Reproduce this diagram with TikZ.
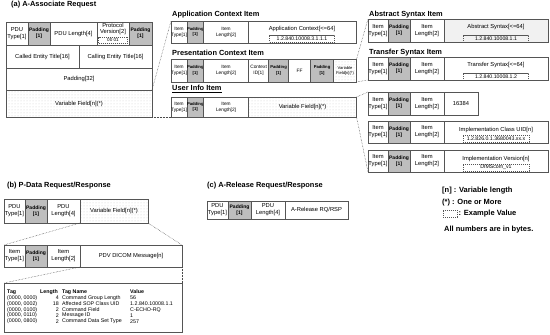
\documentclass[tikz,border=0pt]{standalone}
\usepackage{fontspec}
\setmainfont{Liberation Sans}
\usepackage{tikz}
\usetikzlibrary{positioning,patterns}
\definecolor{cellline}{HTML}{555555}
\definecolor{padgray}{HTML}{BEBEBE}
\definecolor{dotgray}{HTML}{CACACA}
\definecolor{absfill}{HTML}{F1F1F1}
\definecolor{zoomline}{HTML}{4A4A4A}

\begin{document}
\begin{tikzpicture}[x=1pt, y=-1pt,
    cell/.style={draw=cellline, line width=0.6pt, fill=white, outer sep=0pt, inner sep=0pt, align=center, font=\fontsize{5.8}{6.8}\selectfont},
    small/.style={font=\fontsize{4.8}{5.8}\selectfont},
    pad/.style={cell, fill=padgray, font=\bfseries\fontsize{5}{6.4}\selectfont},
    spad/.style={cell, fill=padgray, font=\bfseries\fontsize{4.2}{5.4}\selectfont},
    varf/.style={cell, pattern=dots, pattern color=dotgray},
    valbox/.style={draw=cellline, line width=0.4pt, dash pattern=on 1.2pt off 0.8pt, inner sep=0pt, minimum height=7pt, font=\fontsize{5.2}{5.6}\selectfont},
    lbl/.style={inner sep=0pt, align=center, font=\fontsize{5.8}{6.8}\selectfont},
    ttl/.style={anchor=west, inner sep=0pt, font=\bfseries\fontsize{7.4}{8.8}\selectfont},
    legend/.style={anchor=west, inner sep=0pt, font=\bfseries\fontsize{7.5}{9}\selectfont},
    tab/.style={anchor=west, inner sep=0pt, font=\fontsize{5.3}{6}\selectfont},
    tabhead/.style={tab, font=\bfseries\fontsize{5.3}{6}\selectfont},
    zoom/.style={draw=zoomline, line width=0.5pt, densely dotted}]
  \useasboundingbox (0,0) rectangle (550,335);

  % (a) A-Associate Request
  \node[ttl] (ttlA) at (11,5) {(a) A-Associate Request};
  \node[cell, minimum width=22pt, minimum height=23pt, anchor=north west] (aType) at (6,22) {PDU\\Type[1]};
  \node[pad, minimum width=22pt, minimum height=23pt, right=0pt of aType] (aPadA) {Padding\\{[1]}};
  \node[cell, minimum width=47pt, minimum height=23pt, right=0pt of aPadA] (aLen) {PDU Length[4]};
  \node[cell, minimum width=32pt, minimum height=23pt, right=0pt of aLen] (aVer) {};
  \node[pad, minimum width=23pt, minimum height=23pt, right=0pt of aVer] (aPadB) {Padding\\{[1]}};
  \node[lbl] (aVerName) at (113,29) {Protocol\\Version[2]};
  \node[valbox, minimum width=29pt, minimum height=6.5pt, font=\fontsize{4.6}{5}\selectfont] (aVerEx) at (113,40) {00 01};
  \node[cell, minimum width=73pt, minimum height=23pt, anchor=north west] (aCalled) at (6,45) {Called Entity Title[16]};
  \node[cell, minimum width=73pt, minimum height=23pt, right=0pt of aCalled] (aCalling) {Calling Entity Title[16]};
  \node[cell, minimum width=146pt, minimum height=22pt, anchor=north west] (aPad32) at (6,68) {Padding[32]};
  \node[varf, minimum width=146pt, minimum height=27pt, anchor=north west] (aVar) at (6,90) {Variable Field[n](*)};

  % application context item
  \node[ttl] (ttlApp) at (172,15) {Application Context Item};
  \node[cell, small, minimum width=16pt, minimum height=22pt, anchor=north west] (appType) at (171,21) {Item\\Type[1]};
  \node[spad, minimum width=16pt, minimum height=22pt, right=0pt of appType] (appPad) {Padding\\{[1]}};
  \node[cell, small, minimum width=45pt, minimum height=22pt, right=0pt of appPad] (appLen) {Item\\Length[2]};
  \node[cell, minimum width=108pt, minimum height=22pt, right=0pt of appLen] (appVal) {};
  \node[lbl] (appName) at (302,29) {Application Context[<=64]};
  \node[valbox, minimum width=65pt] (appEx) at (302,38.5) {1.2.840.10008.3.1.1.1};

  % presentation context item
  \node[ttl] (ttlPres) at (172,53) {Presentation Context Item};
  \node[cell, small, minimum width=16pt, minimum height=23pt, anchor=north west] (prType) at (171,59) {Item\\Type[1]};
  \node[spad, minimum width=16pt, minimum height=23pt, right=0pt of prType] (prPad) {Padding\\{[1]}};
  \node[cell, small, minimum width=45pt, minimum height=23pt, right=0pt of prPad] (prLen) {Item\\Length[2]};
  \node[cell, small, minimum width=20pt, minimum height=23pt, right=0pt of prLen] (prCtx) {Context\\ID[1]};
  \node[spad, minimum width=20pt, minimum height=23pt, right=0pt of prCtx] (prPadA) {Padding\\{[1]}};
  \node[cell, small, minimum width=22pt, minimum height=23pt, right=0pt of prPadA] (prFF) {FF};
  \node[spad, minimum width=23pt, minimum height=23pt, right=0pt of prFF] (prPadB) {Padding\\{[1]}};
  \node[varf, minimum width=23pt, minimum height=23pt, right=0pt of prPadB, font=\fontsize{4.1}{5}\selectfont] (prVar) {Variable\\Field[n](*)};

  % user info item
  \node[ttl] (ttlUser) at (172,89) {\underline{User Info Item}};
  \node[cell, small, minimum width=16pt, minimum height=20pt, anchor=north west] (uiType) at (171,97) {Item\\Type[1]};
  \node[spad, minimum width=16pt, minimum height=20pt, right=0pt of uiType] (uiPad) {Padding\\{[1]}};
  \node[cell, small, minimum width=45pt, minimum height=20pt, right=0pt of uiPad] (uiLen) {Item\\Length[2]};
  \node[varf, minimum width=108pt, minimum height=20pt, right=0pt of uiLen] (uiVar) {Variable Field[n](*)};

  % abstract syntax item
  \node[ttl] (ttlAbs) at (369,15) {Abstract Syntax Item};
  \node[cell, minimum width=20pt, minimum height=23pt, anchor=north west] (absType) at (368,19) {Item\\Type[1]};
  \node[pad, minimum width=22pt, minimum height=23pt, right=0pt of absType] (absPad) {Padding\\{[1]}};
  \node[cell, minimum width=34pt, minimum height=23pt, right=0pt of absPad] (absLen) {Item\\Length[2]};
  \node[cell, fill=absfill, minimum width=104pt, minimum height=23pt, right=0pt of absLen] (absVal) {};
  \node[lbl] (absName) at (496,27) {Abstract Syntax[<=64]};
  \node[valbox, minimum width=65pt] (absEx) at (496,38.5) {1.2.840.10008.1.1};

  % transfer syntax item
  \node[ttl] (ttlTrans) at (369,53) {Transfer Syntax Item};
  \node[cell, minimum width=20pt, minimum height=23pt, anchor=north west] (trType) at (368,57) {Item\\Type[1]};
  \node[pad, minimum width=22pt, minimum height=23pt, right=0pt of trType] (trPad) {Padding\\{[1]}};
  \node[cell, minimum width=34pt, minimum height=23pt, right=0pt of trPad] (trLen) {Item\\Length[2]};
  \node[cell, minimum width=104pt, minimum height=23pt, right=0pt of trLen] (trVal) {};
  \node[lbl] (trName) at (496,65) {Transfer Syntax[<=64]};
  \node[valbox, minimum width=65pt] (trEx) at (496,76.5) {1.2.840.10008.1.2};

  % user info sub-items
  \node[cell, minimum width=20pt, minimum height=23pt, anchor=north west] (numType) at (368,92) {Item\\Type[1]};
  \node[pad, minimum width=22pt, minimum height=23pt, right=0pt of numType] (numPad) {Padding\\{[1]}};
  \node[cell, minimum width=34pt, minimum height=23pt, right=0pt of numPad] (numLen) {Item\\Length[2]};
  \node[cell, minimum width=34pt, minimum height=23pt, right=0pt of numLen] (numVal) {16384};
  \node[cell, minimum width=20pt, minimum height=22pt, anchor=north west] (clsType) at (368,121) {Item\\Type[1]};
  \node[pad, minimum width=22pt, minimum height=22pt, right=0pt of clsType] (clsPad) {Padding\\{[1]}};
  \node[cell, minimum width=34pt, minimum height=22pt, right=0pt of clsPad] (clsLen) {Item\\Length[2]};
  \node[cell, minimum width=104pt, minimum height=22pt, right=0pt of clsLen] (clsVal) {};
  \node[lbl] (clsName) at (496,129.5) {Implementation Class UID[n]};
  \node[valbox, minimum width=66pt] (clsEx) at (496,138.5) {1.2.826.0.1.3680043.xx.x};
  \node[cell, minimum width=20pt, minimum height=22pt, anchor=north west] (verType) at (368,150) {Item\\Type[1]};
  \node[pad, minimum width=22pt, minimum height=22pt, right=0pt of verType] (verPad) {Padding\\{[1]}};
  \node[cell, minimum width=34pt, minimum height=22pt, right=0pt of verPad] (verLen) {Item\\Length[2]};
  \node[cell, minimum width=104pt, minimum height=22pt, right=0pt of verLen] (verVal) {};
  \node[lbl] (verName) at (496,158.5) {Implementation Version[n]};
  \node[valbox, minimum width=66pt] (verEx) at (496,167.5) {DIMScom\_v1};

  \draw[zoom] (aVar.north east) -- (appType.north west);
  \draw[zoom] (aVar.south east) -- (uiType.south west);
  \draw[zoom] (prVar.north east) -- (absType.north west);
  \draw[zoom] (prVar.south east) -- (trType.south west);
  \draw[zoom] (uiVar.north east) -- (numType.north west);
  \draw[zoom] (uiVar.south east) -- (verType.south west);

  % legend
  \node[legend] (legN) at (442,191) {[n] : Variable length};
  \node[legend] (legStar) at (442,203) {(*) : One or More};
  \node[valbox, minimum width=14pt, minimum height=7pt, anchor=west] (legBox) at (443,213.5) {};
  \node[legend, right=1pt of legBox] (legEx) {: Example Value};
  \node[legend] (legBytes) at (444,230) {All numbers are in bytes.};

  % (b) P-Data Request/Response
  \node[ttl] (ttlB) at (7,186) {(b) P-Data Request/Response};
  \node[cell, minimum width=21pt, minimum height=24pt, anchor=north west] (bType) at (4,199) {PDU\\Type[1]};
  \node[pad, minimum width=22pt, minimum height=24pt, right=0pt of bType] (bPad) {Padding\\{[1]}};
  \node[cell, minimum width=33pt, minimum height=24pt, right=0pt of bPad] (bLen) {PDU\\Length[4]};
  \node[varf, minimum width=68pt, minimum height=24pt, right=0pt of bLen] (bVar) {Variable Field[n](*)};
  \node[cell, minimum width=21pt, minimum height=22pt, anchor=north west] (pdvType) at (4,245) {Item\\Type[1]};
  \node[pad, minimum width=22pt, minimum height=22pt, right=0pt of pdvType] (pdvPad) {Padding\\{[1]}};
  \node[cell, minimum width=33pt, minimum height=22pt, right=0pt of pdvPad] (pdvLen) {Item\\Length[2]};
  \node[cell, minimum width=102pt, minimum height=22pt, right=0pt of pdvLen] (pdvMsg) {PDV DICOM Message[n]};
  \node[cell, minimum width=178pt, minimum height=49pt, anchor=north west] (pdvTab) at (4,283) {};
  \draw[zoom] (bVar.south west) -- (pdvType.north west);
  \draw[zoom] (bVar.south east) -- (pdvMsg.north east);
  \draw[zoom] (pdvMsg.south west) -- (pdvTab.north west);
  \draw[zoom] (pdvMsg.south east) -- (pdvTab.north east);

  \node[tabhead] (hTag) at (7,292) {Tag};
  \node[tabhead] (hLen) at (40,292) {Length};
  \node[tabhead] (hName) at (62,292) {Tag Name};
  \node[tabhead] (hVal) at (130,292) {Value};
  \foreach \ttag/\tlen/\tname/\tval [count=\ri] in {
      {(0000, 0000)}/4/Command Group Length/56,
      {(0000, 0002)}/18/Affected SOP Class UID/1.2.840.10008.1.1,
      {(0000, 0100)}/2/Command Field/C-ECHO-RQ,
      {(0000, 0110)}/2/Message ID/1,
      {(0000, 0800)}/2/Command Data Set Type/257}{
    \node[tab] (tag\ri) at (7,{292+5.9*\ri}) {\ttag};
    \node[tab, anchor=east] (len\ri) at (59,{292+5.9*\ri}) {\tlen};
    \node[tab] (name\ri) at (62,{292+5.9*\ri}) {\tname};
    \node[tab] (val\ri) at (130,{292+5.9*\ri}) {\tval};
  }

  % (c) A-Release Request/Response
  \node[ttl] (ttlC) at (207,186) {(c) A-Release Request/Response};
  \node[cell, minimum width=21pt, minimum height=18pt, anchor=north west] (relType) at (207,201) {PDU\\Type[1]};
  \node[pad, minimum width=23pt, minimum height=18pt, right=0pt of relType] (relPad) {Padding\\{[1]}};
  \node[cell, minimum width=34pt, minimum height=18pt, right=0pt of relPad] (relLen) {PDU\\Length[4]};
  \node[cell, minimum width=63pt, minimum height=18pt, right=0pt of relLen] (relMsg) {A-Release RQ/RSP};
\end{tikzpicture}
\end{document}
